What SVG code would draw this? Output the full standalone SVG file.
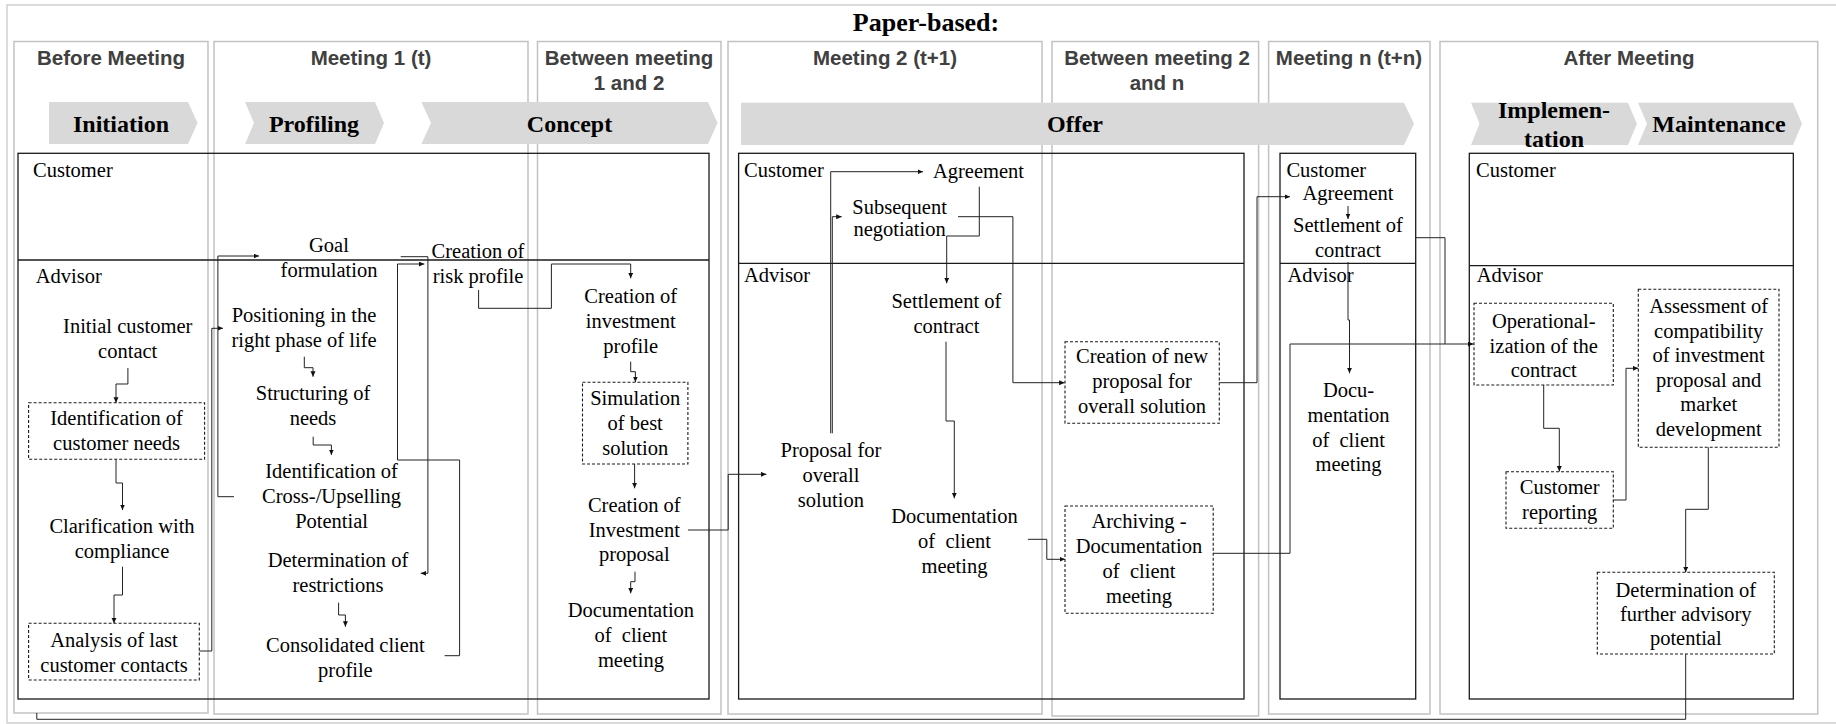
<svg xmlns="http://www.w3.org/2000/svg" width="1836" height="724" viewBox="0 0 1836 724">
<style>
.frame{fill:none;stroke:#cfcfcf;stroke-width:1.5}
.col{fill:none;stroke:#c2c2c2;stroke-width:1.5}
.lane{fill:none;stroke:#1a1a1a;stroke-width:1.3}
.chev{fill:#d9d9d9;stroke:none}
.hdr{font-family:"Liberation Sans",Arial,sans-serif;font-weight:bold;font-size:20.5px;fill:#404040;text-anchor:middle}
.ph{font-family:"Liberation Serif","Times New Roman",serif;font-weight:bold;font-size:24px;fill:#000;text-anchor:middle}
.t{font-family:"Liberation Serif","Times New Roman",serif;font-size:20.5px;fill:#000;text-anchor:middle;white-space:pre}
.lbl{font-family:"Liberation Serif","Times New Roman",serif;font-size:20.5px;fill:#000}
.dbox{fill:none;stroke:#1a1a1a;stroke-width:1.1;stroke-dasharray:3 2}
.c{fill:none;stroke:#222;stroke-width:1}
</style>
<defs>
<marker id="ah" markerUnits="userSpaceOnUse" markerWidth="6" markerHeight="6" refX="5.5" refY="2.5" orient="auto">
<path d="M0,0 L5.5,2.5 L0,5 z" fill="#111"/>
</marker>
</defs>

<rect class="frame" x="7" y="5" width="1835" height="718"/>
<text x="926" y="31" class="ph" style="font-size:26px">Paper-based:</text>

<g id="columns">
<rect class="col" x="14" y="41.5" width="194" height="671.5"/>
<rect class="col" x="214" y="41.5" width="314" height="672.5"/>
<rect class="col" x="537.5" y="41.5" width="183.5" height="672.5"/>
<rect class="col" x="728" y="41.5" width="314" height="672.5"/>
<rect class="col" x="1052" y="41.5" width="206.6" height="674.5"/>
<rect class="col" x="1268.6" y="41.5" width="161.4" height="672.5"/>
<rect class="col" x="1440" y="41.5" width="377.7" height="672.5"/>
<text class="hdr" x="111" y="65">Before Meeting</text>
<text class="hdr" x="371" y="65">Meeting 1 (t)</text>
<text class="hdr" x="629" y="64.5">Between meeting<tspan x="629" y="90">1 and 2</tspan></text>
<text class="hdr" x="885" y="65">Meeting 2 (t+1)</text>
<text class="hdr" x="1157" y="64.5">Between meeting 2<tspan x="1157" y="90">and n</tspan></text>
<text class="hdr" x="1349" y="65">Meeting n (t+n)</text>
<text class="hdr" x="1629" y="65">After Meeting</text>
</g>

<g id="phases">
<path class="chev" d="M49,102 L188,102 L197.5,123 L188,144 L49,144 Z"/>
<path class="chev" d="M245,102 L375,102 L384,123 L375,144 L245,144 L254,123 Z"/>
<path class="chev" d="M421.4,102 L708,102 L717.5,123 L708,144 L421.4,144 L431,123 Z"/>
<path class="chev" d="M741,102.7 L1404,102.7 L1414,123.8 L1404,145 L741,145 Z"/>
<path class="chev" d="M1471,102.7 L1628,102.7 L1637,123.8 L1628,145 L1471,145 L1479.5,123.8 Z"/>
<path class="chev" d="M1638,102.7 L1793,102.7 L1802,123.8 L1793,145 L1638,145 L1647,123.8 Z"/>
<text class="ph" x="121" y="131.7">Initiation</text>
<text class="ph" x="314" y="131.7">Profiling</text>
<text class="ph" x="569.5" y="131.7">Concept</text>
<text class="ph" x="1075" y="131.7">Offer</text>
<text class="ph" x="1554" y="118.3">Implemen-<tspan x="1554" y="146.7">tation</tspan></text>
<text class="ph" x="1719" y="131.7">Maintenance</text>
</g>

<g id="lanes">
<rect class="lane" x="18" y="153.3" width="691" height="545.7"/>
<line class="lane" x1="18" y1="260" x2="709" y2="260"/>
<rect class="lane" x="738.6" y="153.3" width="505.4" height="545.7"/>
<line class="lane" x1="738.6" y1="263.3" x2="1244" y2="263.3"/>
<rect class="lane" x="1280" y="153.3" width="135.7" height="545.7"/>
<line class="lane" x1="1280" y1="263.3" x2="1415.7" y2="263.3"/>
<rect class="lane" x="1469.3" y="153.3" width="324" height="545.7"/>
<line class="lane" x1="1469.3" y1="265.7" x2="1793.3" y2="265.7"/>
<text class="lbl" x="33" y="176.7">Customer</text>
<text class="lbl" x="35.7" y="283.3">Advisor</text>
<text class="lbl" x="744" y="176.7">Customer</text>
<text class="lbl" x="744" y="281.7">Advisor</text>
<text class="lbl" x="1286.4" y="176.7">Customer</text>
<text class="lbl" x="1287.5" y="281.7">Advisor</text>
<text class="lbl" x="1476" y="176.7">Customer</text>
<text class="lbl" x="1476.7" y="281.7">Advisor</text>
</g>

<g id="connectors">
<polyline class="c" marker-end="url(#ah)" points="127.9,368 127.9,384 116,384 116,402.7"/>
<polyline class="c" marker-end="url(#ah)" points="116,459.3 116,483 122.5,483 122.5,510"/>
<polyline class="c" marker-end="url(#ah)" points="122.5,566.7 122.5,595 114,595 114,623.3"/>
<polyline class="c" marker-end="url(#ah)" points="199.3,651 211.8,651 211.8,328.3 223,328.3"/>
<polyline class="c" marker-end="url(#ah)" points="304.3,356.7 304.3,367.7 313,367.7 313,376.7"/>
<polyline class="c" marker-end="url(#ah)" points="313.2,436.7 313.2,445 331.4,445 331.4,455"/>
<polyline class="c" marker-end="url(#ah)" points="234,496.7 217.9,496.7 217.9,256 259,256"/>
<polyline class="c" marker-end="url(#ah)" points="400.7,256.7 427.9,256.7 427.9,573.3 420.7,573.3"/>
<polyline class="c" marker-end="url(#ah)" points="338.6,602.7 338.6,615 345.4,615 345.4,626.7"/>
<polyline class="c" marker-end="url(#ah)" points="444.6,655.7 459.6,655.7 459.6,460 397.5,460 397.5,264 424.3,264"/>
<polyline class="c" marker-end="url(#ah)" points="478.6,290 478.6,308.3 551.4,308.3 551.4,264 630.7,264 630.7,278.3"/>
<polyline class="c" marker-end="url(#ah)" points="630.7,361.7 630.7,371.7 635.4,371.7 635.4,382"/>
<polyline class="c" marker-end="url(#ah)" points="634.6,464 634.6,488.3"/>
<polyline class="c" marker-end="url(#ah)" points="635,571.7 635,581.7 630.7,581.7 630.7,593.3"/>
<polyline class="c" marker-end="url(#ah)" points="687.9,530 728.2,530 728.2,474.3 766.4,474.3"/>
<polyline class="c" marker-end="url(#ah)" points="830.7,433.3 830.7,171.7 923,171.7"/>
<polyline class="c" marker-end="url(#ah)" points="832.3,433.3 832.3,216.7 841.7,216.7"/>
<polyline class="c" marker-end="url(#ah)" points="979.3,186.7 979.3,236 946.7,236 946.7,283.3"/>
<polyline class="c" marker-end="url(#ah)" points="958,216.7 1012.9,216.7 1012.9,382.7 1064.6,382.7"/>
<polyline class="c" marker-end="url(#ah)" points="946,341.7 946,421 954.3,421 954.3,498.3"/>
<polyline class="c" marker-end="url(#ah)" points="1027.9,539.3 1046.8,539.3 1046.8,559.3 1065,559.3"/>
<polyline class="c" marker-end="url(#ah)" points="1219.3,382.7 1257,382.7 1257,196.7 1290,196.7"/>
<polyline class="c" marker-end="url(#ah)" points="1213.2,553.3 1290,553.3 1290,344 1473.5,344"/>
<polyline class="c" marker-end="url(#ah)" points="1348,206 1348,219"/>
<polyline class="c" marker-end="url(#ah)" points="1348,262 1348,320 1349.5,320 1349.5,373.3"/>
<polyline class="c" points="1416,237.7 1445,237.7 1445,344"/>
<polyline class="c" marker-end="url(#ah)" points="1543.7,385 1543.7,428.3 1559.3,428.3 1559.3,471.5"/>
<polyline class="c" marker-end="url(#ah)" points="1613.3,500 1626,500 1626,368.3 1638.3,368.3"/>
<polyline class="c" marker-end="url(#ah)" points="1708.3,447.3 1708.3,509.3 1685.7,509.3 1685.7,572.3"/>
<polyline class="c" points="1685.7,654 1685.7,719.3 36.8,719.3 36.8,713"/>
</g>

<g id="n-initial"><text class="t" x="127.7" y="333.3">Initial customer<tspan x="127.7" y="358.3">contact</tspan></text></g>
<g id="n-idneeds"><rect class="dbox" x="28.6" y="402.7" width="176" height="56.6"/><text class="t" x="116.6" y="425">Identification of<tspan x="116.6" y="450">customer needs</tspan></text></g>
<g id="n-clarification"><text class="t" x="122" y="533.3">Clarification with<tspan x="122" y="558.3">compliance</tspan></text></g>
<g id="n-analysis"><rect class="dbox" x="28.6" y="623.3" width="170.7" height="56.7"/><text class="t" x="114" y="646.7">Analysis of last<tspan x="114" y="671.7">customer contacts</tspan></text></g>
<g id="n-positioning"><text class="t" x="304" y="321.7">Positioning in the<tspan x="304" y="346.7">right phase of life</tspan></text></g>
<g id="n-structuring"><text class="t" x="313" y="400">Structuring of<tspan x="313" y="425">needs</tspan></text></g>
<g id="n-cross"><text class="t" x="331.6" y="478.3">Identification of<tspan x="331.6" y="503.3">Cross-/Upselling</tspan><tspan x="331.6" y="528.3">Potential</tspan></text></g>
<g id="n-restrictions"><text class="t" x="338" y="566.7">Determination of<tspan x="338" y="591.7">restrictions</tspan></text></g>
<g id="n-consolidated"><text class="t" x="345.4" y="651.7">Consolidated client<tspan x="345.4" y="676.7">profile</tspan></text></g>
<g id="n-goal"><text class="t" x="329" y="251.5">Goal<tspan x="329" y="276.5">formulation</tspan></text></g>
<g id="n-risk"><text class="t" x="478" y="258.3">Creation of<tspan x="478" y="283.3">risk profile</tspan></text></g>
<g id="n-invprofile"><text class="t" x="630.7" y="303.3">Creation of<tspan x="630.7" y="328">investment</tspan><tspan x="630.7" y="352.7">profile</tspan></text></g>
<g id="n-simulation"><rect class="dbox" x="582.5" y="382.3" width="105.4" height="81.7"/><text class="t" x="635.2" y="405">Simulation<tspan x="635.2" y="430">of best</tspan><tspan x="635.2" y="455">solution</tspan></text></g>
<g id="n-invproposal"><text class="t" x="634.3" y="511.7">Creation of<tspan x="634.3" y="536.7">Investment</tspan><tspan x="634.3" y="561">proposal</tspan></text></g>
<g id="n-doc1"><text class="t" x="630.9" y="616.7">Documentation<tspan x="630.9" y="641.7">of  client</tspan><tspan x="630.9" y="666.7">meeting</tspan></text></g>

<g id="n-agreement2"><text class="t" x="978.5" y="178">Agreement</text></g>
<g id="n-subsequent"><text class="t" x="899.6" y="213.5">Subsequent<tspan x="899.6" y="236">negotiation</tspan></text></g>
<g id="n-settlement2"><text class="t" x="946.4" y="308.3">Settlement of<tspan x="946.4" y="332.7">contract</tspan></text></g>
<g id="n-proposal"><text class="t" x="830.9" y="457.3">Proposal for<tspan x="830.9" y="482">overall</tspan><tspan x="830.9" y="507">solution</tspan></text></g>
<g id="n-doc2"><text class="t" x="954.5" y="523.3">Documentation<tspan x="954.5" y="548.3">of  client</tspan><tspan x="954.5" y="572.5">meeting</tspan></text></g>
<g id="n-newproposal"><rect class="dbox" x="1065" y="341.7" width="154.3" height="81.6"/><text class="t" x="1142" y="363.3">Creation of new<tspan x="1142" y="388.3">proposal for</tspan><tspan x="1142" y="412.7">overall solution</tspan></text></g>
<g id="n-archiving"><rect class="dbox" x="1065" y="506" width="148.2" height="107.3"/><text class="t" x="1139" y="528.3">Archiving -<tspan x="1139" y="553.3">Documentation</tspan><tspan x="1139" y="578.3">of  client</tspan><tspan x="1139" y="602.7">meeting</tspan></text></g>

<g id="n-agreement3"><text class="t" x="1348" y="200">Agreement</text></g>
<g id="n-settlement3"><text class="t" x="1348" y="232.3">Settlement of<tspan x="1348" y="256.7">contract</tspan></text></g>
<g id="n-doc3"><text class="t" x="1348.6" y="396.7">Docu-<tspan x="1348.6" y="421.7">mentation</tspan><tspan x="1348.6" y="446.7">of  client</tspan><tspan x="1348.6" y="471">meeting</tspan></text></g>

<g id="n-operational"><rect class="dbox" x="1474" y="303.3" width="139.3" height="81.7"/><text class="t" x="1543.7" y="328.3">Operational-<tspan x="1543.7" y="352.5">ization of the</tspan><tspan x="1543.7" y="376.7">contract</tspan></text></g>
<g id="n-assessment"><rect class="dbox" x="1638.3" y="289.3" width="140.7" height="158"/><text class="t" x="1708.7" y="313.3">Assessment of<tspan x="1708.7" y="337.8">compatibility</tspan><tspan x="1708.7" y="362.3">of investment</tspan><tspan x="1708.7" y="386.8">proposal and</tspan><tspan x="1708.7" y="411.3">market</tspan><tspan x="1708.7" y="436">development</tspan></text></g>
<g id="n-reporting"><rect class="dbox" x="1506" y="471.7" width="107.3" height="56.6"/><text class="t" x="1559.7" y="494">Customer<tspan x="1559.7" y="519">reporting</tspan></text></g>
<g id="n-further"><rect class="dbox" x="1597.3" y="572.3" width="177" height="81.7"/><text class="t" x="1685.8" y="596.7">Determination of<tspan x="1685.8" y="621">further advisory</tspan><tspan x="1685.8" y="645">potential</tspan></text></g>
</svg>
